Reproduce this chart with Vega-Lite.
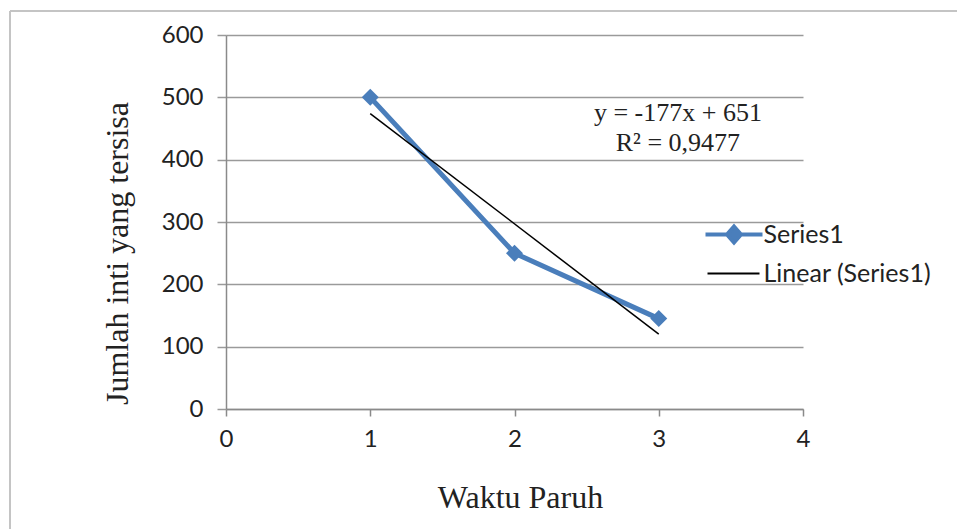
{
  "$schema": "https://vega.github.io/schema/vega-lite/v6.json",
  "width": 577,
  "height": 374,
  "autosize": "none",
  "padding": {"left": 226, "top": 35, "right": 154, "bottom": 120},
  "background": "white",
  "config": {
    "view": {"stroke": null},
    "axisX": {
      "grid": false,
      "domainColor": "#8a8a8a",
      "domainWidth": 1.5,
      "tickColor": "#8a8a8a",
      "tickWidth": 1.5,
      "tickSize": 7,
      "labelFont": "Lato",
      "labelFontSize": 24,
      "labelColor": "#222222",
      "labelPadding": 11,
      "labelFlush": false,
      "titleFont": "Liberation Serif",
      "titleFontSize": 32,
      "titleFontWeight": "normal",
      "titleColor": "#222222",
      "titleX": 294,
      "titleY": 88,
      "titleBaseline": "middle",
      "titleAlign": "center"
    },
    "axisY": {
      "grid": true,
      "gridColor": "#9a9a9a",
      "gridWidth": 1.5,
      "domainColor": "#8a8a8a",
      "domainWidth": 1.5,
      "tickColor": "#9a9a9a",
      "tickWidth": 1.5,
      "tickSize": 9,
      "labelFont": "Lato",
      "labelFontSize": 24,
      "labelColor": "#222222",
      "labelPadding": 14,
      "labelFlush": false,
      "titleFont": "Liberation Serif",
      "titleFontSize": 32,
      "titleFontWeight": "normal",
      "titleColor": "#222222",
      "titleAngle": -90,
      "titleX": -109,
      "titleY": 218,
      "titleBaseline": "middle",
      "titleAlign": "center"
    },
    "legend": {
      "labelFont": "Lato",
      "labelFontSize": 25,
      "labelColor": "#222222",
      "labelLimit": 400
    }
  },
  "datasets": {
    "series": [
      {"x": 1, "y": 500, "series": "Series1"},
      {"x": 2, "y": 250, "series": "Series1"},
      {"x": 3, "y": 145, "series": "Series1"}
    ],
    "trend": [
      {"x": 1, "y": 474, "series": "Linear (Series1)"},
      {"x": 3, "y": 120, "series": "Linear (Series1)"}
    ]
  },
  "layer": [
    {
      "data": {"values": [{}]},
      "mark": {"type": "rule", "color": "#c4c4c4", "strokeWidth": 2, "clip": false},
      "encoding": {
        "x": {"datum": -1.4974, "type": "quantitative", "scale": {"domain": [0, 4], "nice": false}, "title": "Waktu Paruh", "axis": {"values": [0, 1, 2, 3, 4]}},
        "x2": {"datum": 7},
        "y": {"datum": 638.5, "type": "quantitative", "scale": {"domain": [0, 600], "nice": false}, "title": "Jumlah inti yang tersisa", "axis": {"values": [0, 100, 200, 300, 400, 500, 600]}}
      }
    },
    {
      "data": {"values": [{}]},
      "mark": {"type": "rule", "color": "#c4c4c4", "strokeWidth": 2, "clip": false},
      "encoding": {
        "x": {"datum": -1.4974, "type": "quantitative", "scale": {"domain": [0, 4], "nice": false}, "title": "Waktu Paruh", "axis": {"values": [0, 1, 2, 3, 4]}},
        "y": {"datum": 638.5, "type": "quantitative", "scale": {"domain": [0, 600], "nice": false}, "title": "Jumlah inti yang tersisa", "axis": {"values": [0, 100, 200, 300, 400, 500, 600]}},
        "y2": {"datum": -300}
      }
    },
    {
      "data": {"name": "series"},
      "mark": {"type": "line", "strokeWidth": 5, "point": {"shape": "diamond", "size": 289, "filled": true, "opacity": 1}},
      "encoding": {
        "x": {"field": "x", "type": "quantitative", "scale": {"domain": [0, 4], "nice": false}, "title": "Waktu Paruh", "axis": {"values": [0, 1, 2, 3, 4]}},
        "y": {"field": "y", "type": "quantitative", "scale": {"domain": [0, 600], "nice": false}, "title": "Jumlah inti yang tersisa", "axis": {"values": [0, 100, 200, 300, 400, 500, 600]}},
        "color": {
          "field": "series",
          "type": "nominal",
          "scale": {"domain": ["Series1", "Linear (Series1)"], "range": ["#4a7ebb", "#000000"]},
          "legend": {
            "title": null,
            "orient": "none",
            "legendX": 495.5,
            "legendY": 187,
            "padding": 0,
            "symbolSize": 400,
            "labelOffset": 17,
            "rowPadding": 10,
            "labelLimit": 400,
            "encode": {
              "symbols": {
                "update": {
                  "shape": {"signal": "datum.value === 'Series1' ? 'M-2.85,0H2.85M0,-0.8L0.7,0L0,0.8L-0.7,0Z' : 'M-2.65,0H2.55'"},
                  "fill": {"signal": "datum.value === 'Series1' ? '#4a7ebb' : 'transparent'"},
                  "stroke": {"signal": "datum.value === 'Series1' ? '#4a7ebb' : '#333333'"},
                  "strokeWidth": {"signal": "datum.value === 'Series1' ? 4 : 1.8"},
                  "size": {"value": 400},
                  "opacity": {"value": 1},
                  "fillOpacity": {"value": 1},
                  "strokeOpacity": {"value": 1}
                }
              }
            }
          }
        }
      }
    },
    {
      "data": {"name": "trend"},
      "mark": {"type": "line", "strokeWidth": 1.5},
      "encoding": {
        "x": {"field": "x", "type": "quantitative", "scale": {"domain": [0, 4], "nice": false}, "title": "Waktu Paruh", "axis": {"values": [0, 1, 2, 3, 4]}},
        "y": {"field": "y", "type": "quantitative", "scale": {"domain": [0, 600], "nice": false}, "title": "Jumlah inti yang tersisa", "axis": {"values": [0, 100, 200, 300, 400, 500, 600]}},
        "color": {"field": "series", "type": "nominal"}
      }
    },
    {
      "data": {"values": [{}]},
      "mark": {
        "type": "text",
        "text": "y = -177x + 651\nR² = 0,9477",
        "lineBreak": "\n",
        "lineHeight": 30,
        "font": "Liberation Serif",
        "fontSize": 26,
        "color": "#222222",
        "align": "center",
        "baseline": "middle"
      },
      "encoding": {
        "x": {"datum": 3.133, "type": "quantitative", "scale": {"domain": [0, 4], "nice": false}, "title": "Waktu Paruh", "axis": {"values": [0, 1, 2, 3, 4]}},
        "y": {"datum": 474.9, "type": "quantitative", "scale": {"domain": [0, 600], "nice": false}, "title": "Jumlah inti yang tersisa", "axis": {"values": [0, 100, 200, 300, 400, 500, 600]}}
      }
    }
  ]
}
